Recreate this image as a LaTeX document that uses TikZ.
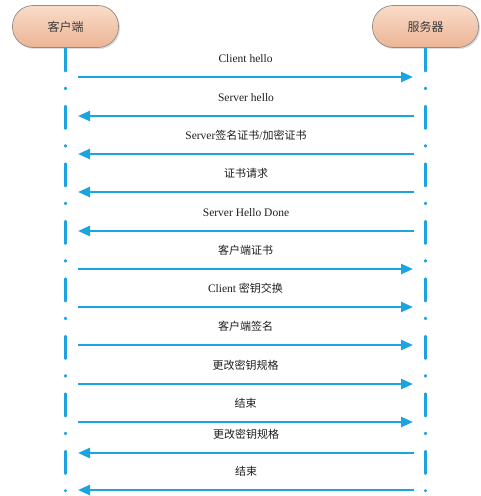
\documentclass[tikz,border=0pt]{standalone}
\usepackage{fontspec}
\setmainfont{Liberation Serif}
\newfontfamily\cjk{Noto Sans CJK SC}
\usetikzlibrary{arrows.meta,shadows}
\definecolor{lineblue}{RGB}{27,163,226}
\definecolor{peachtop}{RGB}{250,220,200}
\definecolor{peachbot}{RGB}{236,180,150}
\definecolor{boxborder}{RGB}{140,140,140}
\definecolor{textgray}{RGB}{60,60,60}
\definecolor{textblack}{RGB}{30,30,30}
\newcommand\msgright[3]{%
  \coordinate (c#1) at (78,#2);
  \coordinate (s#1) at (413,#2);
  \draw[msg] (c#1) -- node[lbl, yshift=18.5pt]{#3} (s#1);}
\newcommand\msgleft[3]{%
  \coordinate (c#1) at (78,#2);
  \coordinate (s#1) at (414,#2);
  \draw[msg] (s#1) -- node[lbl, yshift=18.5pt]{#3} (c#1);}
\begin{document}
\begin{tikzpicture}[x=1pt,y=-1pt,
  actor/.style={draw=boxborder, line width=0.7pt, rounded corners=20.5pt,
    minimum width=106pt, minimum height=42pt,
    top color=peachtop, bottom color=peachbot,
    drop shadow={shadow xshift=1.5pt, shadow yshift=-1.5pt, opacity=0.25},
    font=\cjk\fontsize{12}{14}\selectfont, text=textgray},
  lifeline/.style={draw=lineblue, line width=2.6pt, line cap=round,
    dash pattern=on 22.5pt off 16.75pt on 1pt off 17.25pt},
  msg/.style={draw=lineblue, line width=2.4pt, -{Triangle[length=12pt,width=10pt]}},
  lbl/.style={font=\fontsize{11.5}{13}\selectfont, text=textblack}]
\useasboundingbox (0,0) rectangle (480,496);
\node[actor] (client) at (65.5,26.5) {客户端};
\node[actor] (server) at (425.5,26.5) {服务器};
\coordinate (clientend) at (65.5,491);
\coordinate (serverend) at (425.5,491);
\draw[lifeline] ([yshift=-0.8pt]client.south) -- (clientend);
\draw[lifeline] ([yshift=-0.8pt]server.south) -- (serverend);
\msgright{1}{77}{Client hello}
\msgleft{2}{116}{Server hello}
\msgleft{3}{154}{Server{\cjk\fontsize{11}{13}\selectfont 签名证书}/{\cjk\fontsize{11}{13}\selectfont 加密证书}}
\msgleft{4}{192}{{\cjk\fontsize{11}{13}\selectfont 证书请求}}
\msgleft{5}{231}{Server Hello Done}
\msgright{6}{269}{{\cjk\fontsize{11}{13}\selectfont 客户端证书}}
\msgright{7}{307}{Client {\cjk\fontsize{11}{13}\selectfont 密钥交换}}
\msgright{8}{345}{{\cjk\fontsize{11}{13}\selectfont 客户端签名}}
\msgright{9}{384}{{\cjk\fontsize{11}{13}\selectfont 更改密钥规格}}
\msgright{10}{422}{{\cjk\fontsize{11}{13}\selectfont 结束}}
\msgleft{11}{453}{{\cjk\fontsize{11}{13}\selectfont 更改密钥规格}}
\msgleft{12}{490}{{\cjk\fontsize{11}{13}\selectfont 结束}}
\end{tikzpicture}
\end{document}
